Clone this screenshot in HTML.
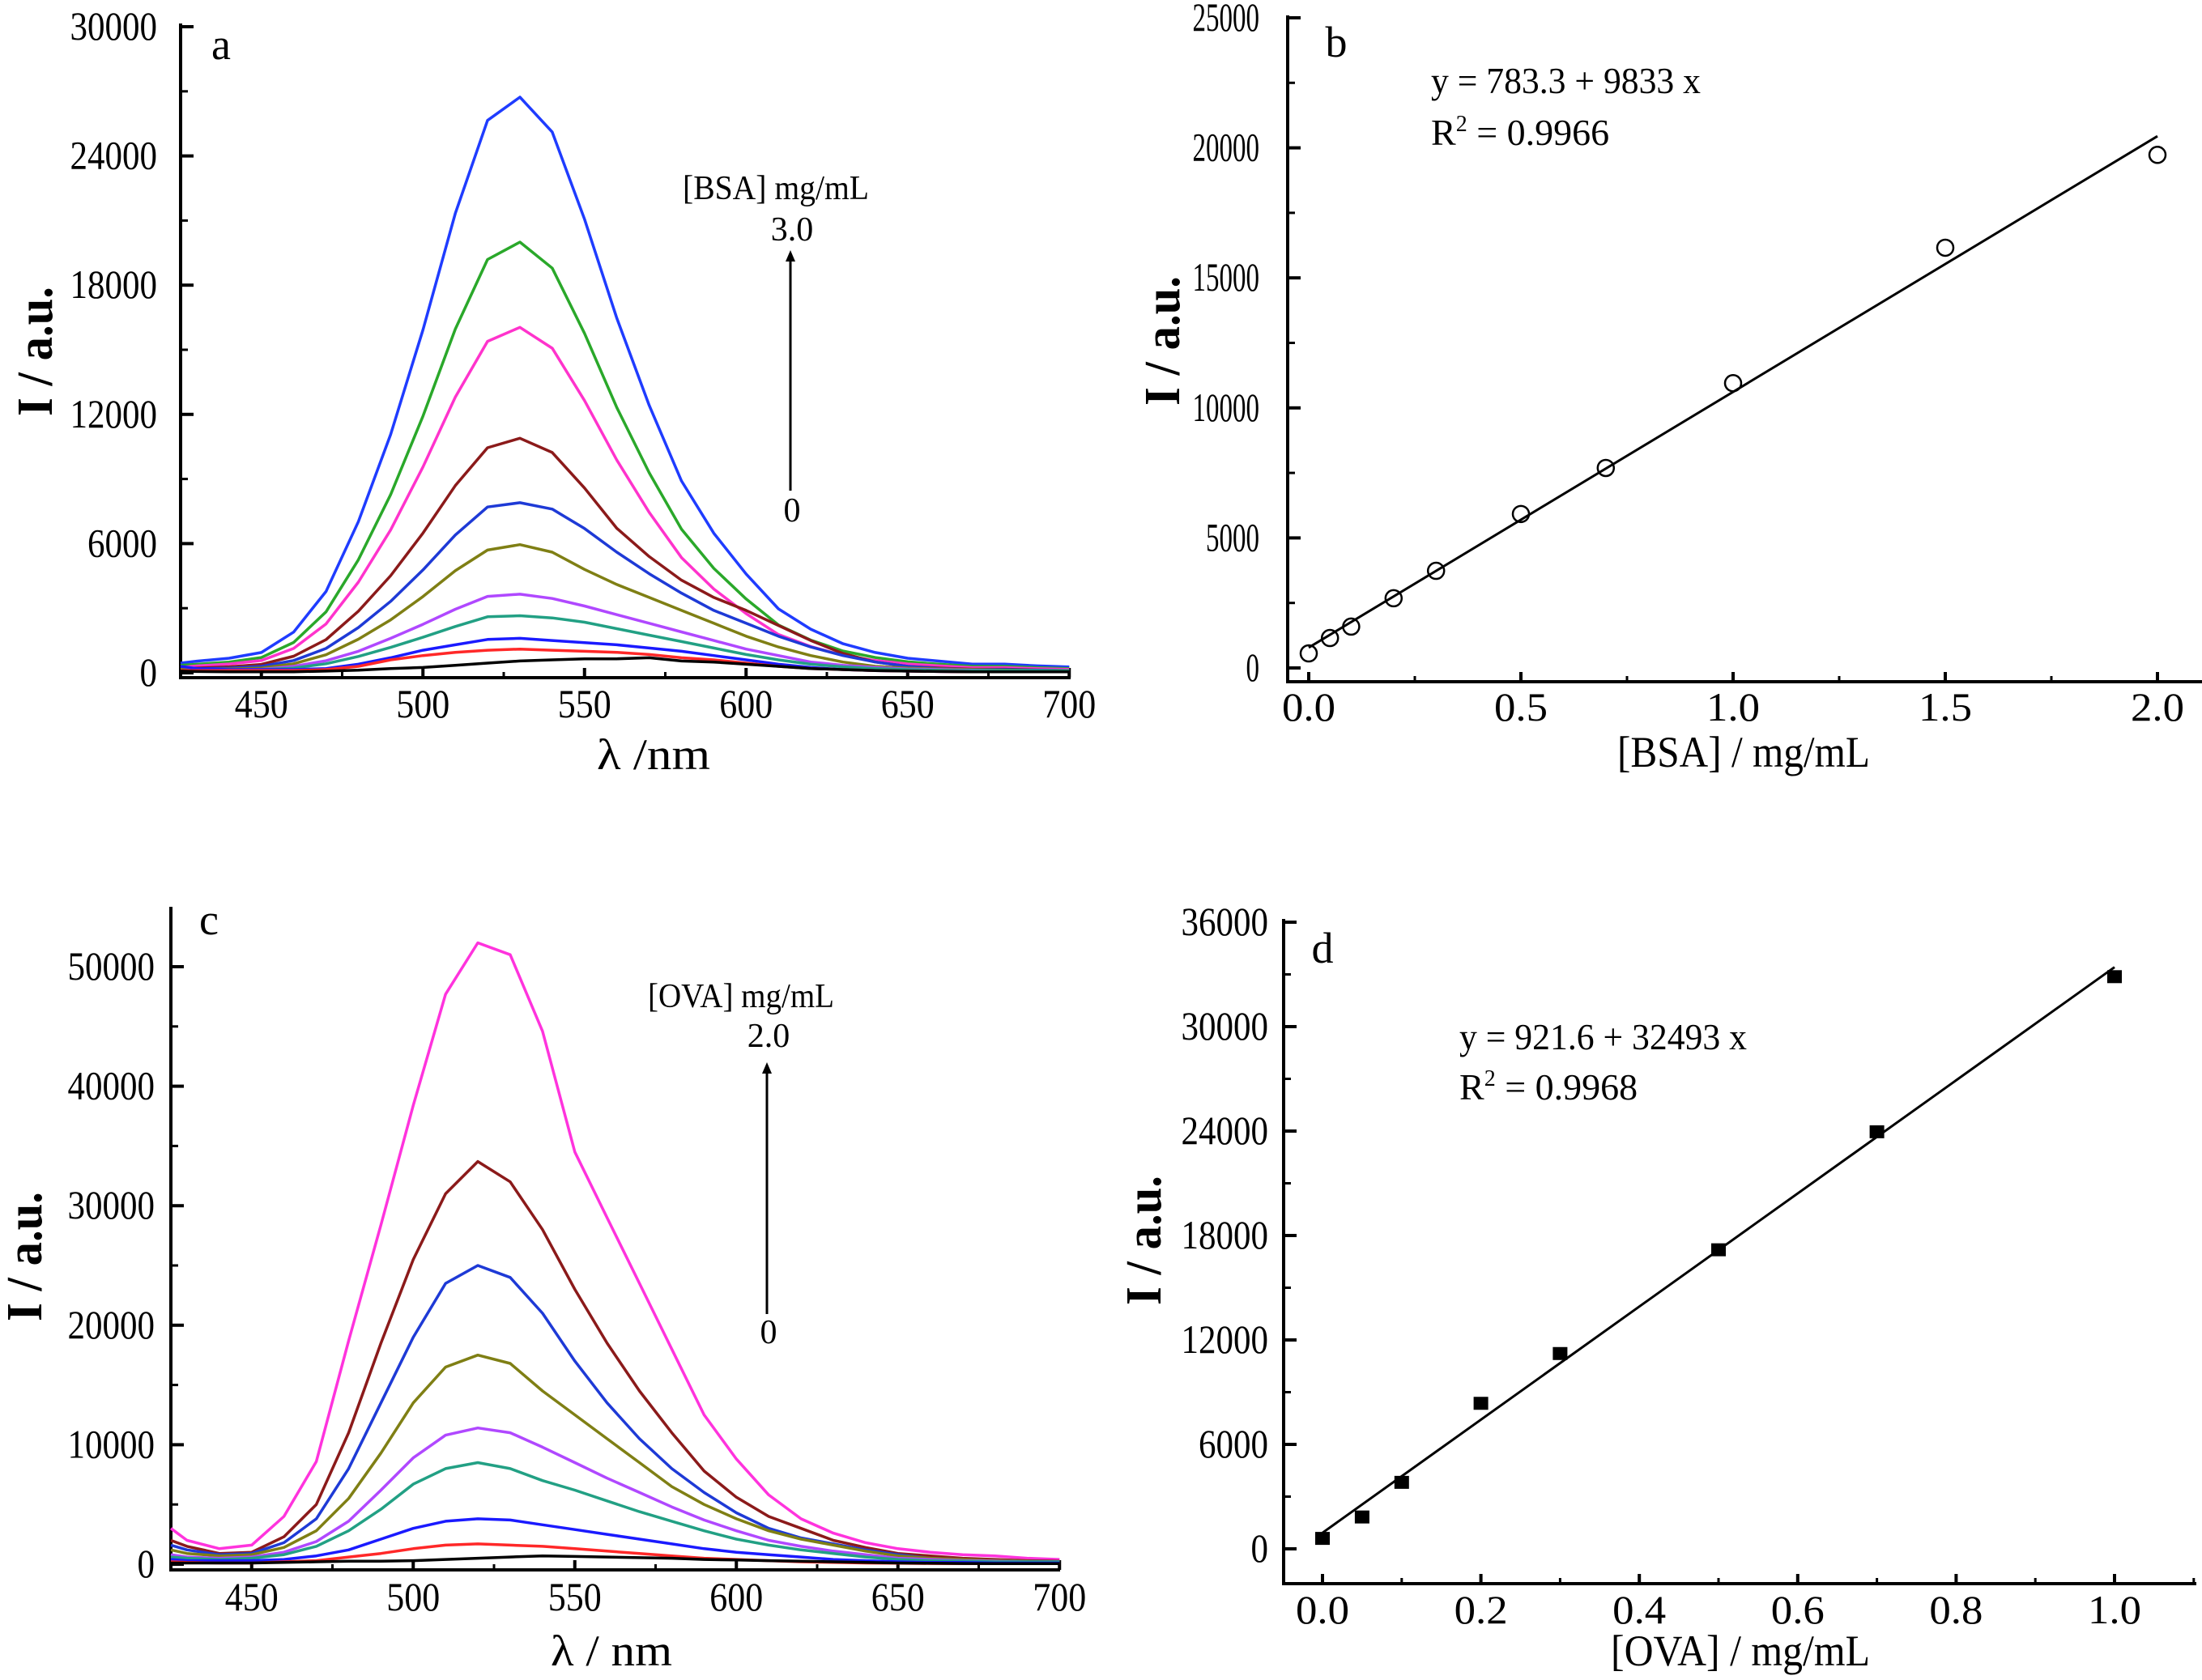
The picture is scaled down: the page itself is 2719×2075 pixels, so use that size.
<!DOCTYPE html>
<html><head><meta charset="utf-8"><style>
html,body{margin:0;padding:0;background:#fff;overflow:hidden;}
svg{display:block;font-family:"Liberation Serif",serif;}
</style></head><body>
<svg id="fig" width="2719" height="2075" viewBox="0 0 2719 2075" xmlns="http://www.w3.org/2000/svg"></svg>
<script>
const wl = [425,430,440,450,460,470,480,490,500,510,520,530,540,550,560,570,580,590,600,610,620,630,640,650,660,670,680,690,700];
const aNames = ['bsa-3.0','bsa-2.0','bsa-1.5','bsa-1.0','bsa-0.7','bsa-0.5','bsa-0.3','bsa-0.2','bsa-0.1','bsa-0.05','bsa-0'];
const aColors = ['#1f3cff','#2aa82a','#ff33cc','#8b1a1a','#1e3ad6','#7f7f14','#b048ff','#22a084','#1a1aff','#ff2828','#000000'];
const a1 = [450,540,675,945,1890,3780,7020,11070,15930,21330,25650,26730,25110,21060,16470,12420,8910,6480,4590,2970,2025,1350,945,675,540,405,405,324,270];
const a2 = [350,400,500,710,1410,2830,5250,8280,11920,15960,19190,20000,18790,15760,12320,9290,6670,4850,3430,2220,1520,1010,710,510,400,300,300,240,200];
const a3 = [250,320,410,570,1130,2270,4210,6640,9560,12800,15390,16040,15070,12640,9880,7450,5350,3890,2750,1780,1220,810,570,410,320,240,240,190,160];
const a4 = [200,220,280,390,770,1540,2860,4510,6490,8690,10450,10890,10230,8580,6710,5400,4300,3500,2900,2200,1500,900,500,300,220,170,170,130,110];
const a5 = [150,180,220,300,570,1130,2100,3320,4780,6400,7700,7900,7600,6700,5600,4600,3700,2900,2300,1700,1200,800,500,300,200,150,150,120,100];
const a6 = [150,150,180,220,420,840,1560,2460,3540,4740,5700,5950,5600,4800,4100,3500,2900,2300,1700,1200,800,500,300,220,180,150,120,100,100];
const a7 = [100,120,140,160,300,560,1000,1600,2250,2950,3550,3650,3450,3100,2700,2300,1900,1500,1100,800,500,350,250,180,150,120,100,100,100];
const a8 = [100,100,120,150,220,420,760,1180,1650,2150,2600,2650,2550,2350,2050,1750,1450,1150,850,600,400,280,200,150,120,100,100,100,100];
const a9 = [300,200,150,150,150,200,400,700,1050,1300,1550,1600,1500,1400,1300,1150,1000,800,600,400,250,150,100,80,60,50,50,50,50];
const a10 = [100,100,100,100,100,150,300,600,800,950,1050,1100,1050,1000,950,850,700,600,450,300,200,150,100,80,60,50,50,50,50];
const a11 = [80,60,50,50,50,80,120,200,250,350,450,550,600,650,650,700,550,500,400,300,200,150,100,80,60,50,50,50,50];
const aSeries = [a1,a2,a3,a4,a5,a6,a7,a8,a9,a10,a11];

const cNames = ['ova-2.0','ova-1.0','ova-0.7','ova-0.5','ova-0.3','ova-0.2','ova-0.1','ova-0.05','ova-0'];
const cColors = ['#ff33dd','#8b1a1a','#1e3ad6','#7f7f14','#b048ff','#22a084','#1a1aff','#ff2828','#000000'];
const c1 = [3000,2000,1300,1600,4000,8600,18700,28400,38400,47700,52000,51000,44600,34500,29000,23500,18000,12500,8800,5800,3800,2600,1800,1300,1000,800,700,500,400];
const c2 = [2000,1500,900,1000,2300,5000,11000,18500,25500,31000,33700,32000,28000,23000,18500,14500,11000,7800,5600,4000,3000,2000,1400,900,700,500,400,300,250];
const c3 = [1600,1200,800,900,1800,3800,8000,13500,19000,23500,25000,24000,21000,17000,13500,10500,8000,6000,4300,3000,2200,1700,1200,800,500,400,300,250,200];
const c4 = [1200,900,700,800,1400,2800,5500,9300,13500,16500,17500,16800,14500,12500,10500,8500,6500,5000,3800,2800,2100,1600,1100,700,500,400,300,250,200];
const c5 = [800,600,500,600,1000,1900,3600,6200,8900,10800,11400,11000,9800,8500,7200,6000,4800,3700,2800,2000,1500,1100,800,500,400,300,250,200,200];
const c6 = [600,500,400,500,800,1500,2800,4600,6700,8000,8500,8000,7000,6200,5300,4400,3600,2800,2100,1600,1200,900,600,400,300,250,200,200,200];
const c7 = [400,300,300,300,400,700,1200,2100,3000,3600,3800,3700,3300,2900,2500,2100,1700,1300,1000,800,600,400,300,200,150,150,100,100,100];
const c8 = [200,150,100,100,200,300,600,900,1300,1600,1700,1600,1500,1300,1100,900,700,500,400,300,200,150,100,80,60,50,50,50,50];
const c9 = [100,100,100,100,150,200,250,250,300,400,500,600,700,650,600,550,500,400,350,300,250,200,150,100,80,60,50,50,50];
const cSeries = [c1,c2,c3,c4,c5,c6,c7,c8,c9];

const bX = [0,0.05,0.1,0.2,0.3,0.5,0.7,1.0,1.5,2.0];
const bY = [560,1150,1590,2680,3735,5920,7690,10950,16160,19730];
const bFit = [783.3,9833];
const dX = [0,0.05,0.1,0.2,0.3,0.5,0.7,1.0];
const dY = [600,1830,3820,8360,11220,17180,23960,32870];
const dFit = [921.6,32493];

const aYTicks = [0,6000,12000,18000,24000,30000];
const bYTicks = [0,5000,10000,15000,20000,25000];
const cYTicks = [0,10000,20000,30000,40000,50000];
const dYTicks = [0,6000,12000,18000,24000,30000,36000];
const wlTicks = [450,500,550,600,650,700];
const bXTicks = ['0.0','0.5','1.0','1.5','2.0'];
const dXTicks = ['0.0','0.2','0.4','0.6','0.8','1.0'];

const NS='http://www.w3.org/2000/svg';
const svg=document.getElementById('fig');
function el(tag,attrs,parent){const e=document.createElementNS(NS,tag);for(const k in attrs)e.setAttribute(k,attrs[k]);(parent||svg).appendChild(e);return e;}
function txt(parent,x,y,s,size,anchor,extra){const t=el('text',{x:x,y:y,'font-size':size,'text-anchor':anchor||'start',fill:'#000'},parent);if(extra)for(const k in extra)t.setAttribute(k,extra[k]);t.textContent=s;return t;}

function panel(name,cfg){
  const g=el('g',{});
  
  
  const ya=el('line',{x1:cfg.ax,y1:cfg.ytop,x2:cfg.ax,y2:cfg.ay,stroke:'#000','stroke-width':4},g);
  
  
  const xa=el('line',{x1:cfg.ax-2,y1:cfg.ay,x2:cfg.xend,y2:cfg.ay,stroke:'#000','stroke-width':4},g);
  
  
  const yfs=cfg.yfs||50, ycw=cfg.ycw||21.5;
  cfg.yt.forEach(v=>{const y=cfg.Y(v);
    el('line',{x1:cfg.ax,y1:y,x2:cfg.ax+16,y2:y,stroke:'#000','stroke-width':4},g);
    const t=txt(g,cfg.ax-cfg.lblGap,y+yfs*0.32,String(v),yfs,'end',{textLength:String(v).length*ycw,lengthAdjust:'spacingAndGlyphs'});
    
    
  });
  cfg.ym.forEach(v=>{const y=cfg.Y(v);el('line',{x1:cfg.ax,y1:y,x2:cfg.ax+9,y2:y,stroke:'#000','stroke-width':3},g);});
  cfg.xt.forEach(v=>{const x=cfg.X(parseFloat(v));
    el('line',{x1:x,y1:cfg.ay,x2:x,y2:cfg.ay-12,stroke:'#000','stroke-width':4},g);
    const t=txt(g,x,cfg.xlBase,String(v),50,'middle',{textLength:String(v).length*22,lengthAdjust:'spacingAndGlyphs'});
    
    
  });
  cfg.xm.forEach(v=>{const x=cfg.X(v);el('line',{x1:x,y1:cfg.ay,x2:x,y2:cfg.ay-7,stroke:'#000','stroke-width':3},g);});
  const xt=txt(g,cfg.xtX,cfg.xtY,cfg.xtitle,54,'middle',{textLength:cfg.xtLen,lengthAdjust:'spacingAndGlyphs'});
  
  
  const yt=txt(g,0,0,'I / a.u.',62,'middle',{'font-weight':'bold',transform:'translate('+(cfg.ytX+21)+','+cfg.ytY+') rotate(-90)',textLength:160,lengthAdjust:'spacingAndGlyphs'});
  
  
  const pl=txt(g,cfg.lbX,cfg.lbY,cfg.label,54,'middle');
  
  
  return g;
}

function spectra(g,series,names,colors,X,Y){
  series.forEach((s,i)=>{
    const pts=s.map((v,j)=>X(wl[j]).toFixed(1)+','+Y(v).toFixed(1)).join(' ');
    const p=el('polyline',{points:pts,fill:'none',stroke:colors[i],'stroke-width':3.5,'stroke-linejoin':'round'},g);
    
    
  });
}
function arrowAnno(g,x,titleX,titleY,title,topLbl,topY,botY,arrTop,arrBot){
  const t=txt(g,titleX,titleY,title,42,'middle',{textLength:230,lengthAdjust:'spacingAndGlyphs'});
  
  
  const t2=txt(g,x+2,topY,topLbl,42,'middle');
  
  
  const t3=txt(g,x+2,botY,'0',42,'middle');
  
  
  const l=el('line',{x1:x,y1:arrBot,x2:x,y2:arrTop+12,stroke:'#000','stroke-width':3},g);
  
  
  el('polygon',{points:`${x-6},${arrTop+14} ${x+6},${arrTop+14} ${x},${arrTop}`,fill:'#000'},g);
}

// Panel a
(function(){
  const X=v=>223+(v-425)*3.99, Y=v=>831-v*798/30000;
  const g=panel('panel-a',{ax:223,ay:837,ytop:29,xend:1322,X:X,Y:Y,yt:aYTicks,ym:[3000,9000,15000,21000,27000],xt:wlTicks,xm:[475,525,575,625,675],
    lblGap:29,xlBase:886,xtitle:'λ /nm',xtX:807,xtY:950,xtLen:140,ytX:43,ytY:434,label:'a',lbX:273,lbY:73});
  spectra(g,aSeries,aNames,aColors,X,Y);
  arrowAnno(g,976,958,246,'[BSA] mg/mL','3.0',297,644,309,606);
})();
// Panel b
(function(){
  const X=v=>1616+v*524, Y=v=>825-v*803/25000;
  const g=panel('panel-b',{ax:1590,ay:842,ytop:19,xend:2719,X:X,Y:Y,yt:bYTicks,ym:[2500,7500,12500,17500,22500],xt:bXTicks,xm:[0.25,0.75,1.25,1.75],
    lblGap:35,yfs:50,ycw:16.5,xlBase:890,xtitle:'[BSA] / mg/mL',xtX:2153,xtY:947,xtLen:312,ytX:1435,ytY:421,label:'b',lbX:1650,lbY:70});
  const f=el('line',{x1:X(0),y1:Y(bFit[0]),x2:X(2.0),y2:Y(bFit[0]+bFit[1]*2.0),stroke:'#000','stroke-width':3},g);
  
  
  bX.forEach((x,i)=>{const c=el('circle',{cx:X(x),cy:Y(bY[i]),r:10,fill:'none',stroke:'#000','stroke-width':2.5},g);
    
    });
  const e1=txt(g,1767,115,'y = 783.3 + 9833 x',46,'start',{textLength:333,lengthAdjust:'spacingAndGlyphs'});
  
  
  const e2=el('text',{x:1767,y:179,'font-size':46},g);
  
  
  e2.innerHTML='R<tspan font-size="28" dy="-17">2</tspan><tspan dy="17"> = 0.9966</tspan>';
})();
// Panel c
(function(){
  const X=v=>211+(v-425)*3.99, Y=v=>1932-v*738/50000;
  const g=panel('panel-c',{ax:211,ay:1939,ytop:1120,xend:1309,X:X,Y:Y,yt:cYTicks,ym:[5000,15000,25000,35000,45000],xt:wlTicks,xm:[475,525,575,625,675],
    lblGap:20,xlBase:1989,xtitle:'λ / nm',xtX:755,xtY:2057,xtLen:150,ytX:30,ytY:1552,label:'c',lbX:258,lbY:1154});
  spectra(g,cSeries,cNames,cColors,X,Y);
  arrowAnno(g,947,915,1244,'[OVA] mg/mL','2.0',1293,1659,1312,1623);
})();
// Panel d
(function(){
  const X=v=>1633+v*978, Y=v=>1913-v*774/36000;
  const g=panel('panel-d',{ax:1585,ay:1956,ytop:1135,xend:2712,X:X,Y:Y,yt:dYTicks,ym:[3000,9000,15000,21000,27000,33000],xt:dXTicks,xm:[0.1,0.3,0.5,0.7,0.9,1.1],
    lblGap:19,xlBase:2005,xtitle:'[OVA] / mg/mL',xtX:2149,xtY:2057,xtLen:320,ytX:1412,ytY:1532,label:'d',lbX:1633,lbY:1189});
  const f=el('line',{x1:X(0),y1:Y(dFit[0]),x2:X(1.0),y2:Y(dFit[0]+dFit[1]*1.0),stroke:'#000','stroke-width':3},g);
  
  
  dX.forEach((x,i)=>{const r=el('rect',{x:X(x)-9,y:Y(dY[i])-8,width:18,height:16,fill:'#000'},g);
    
    });
  const e1=txt(g,1802,1296,'y = 921.6 + 32493 x',46,'start',{textLength:355,lengthAdjust:'spacingAndGlyphs'});
  
  
  const e2=el('text',{x:1802,y:1358,'font-size':46},g);
  
  
  e2.innerHTML='R<tspan font-size="28" dy="-17">2</tspan><tspan dy="17"> = 0.9968</tspan>';
})();
</script>
</body></html>
